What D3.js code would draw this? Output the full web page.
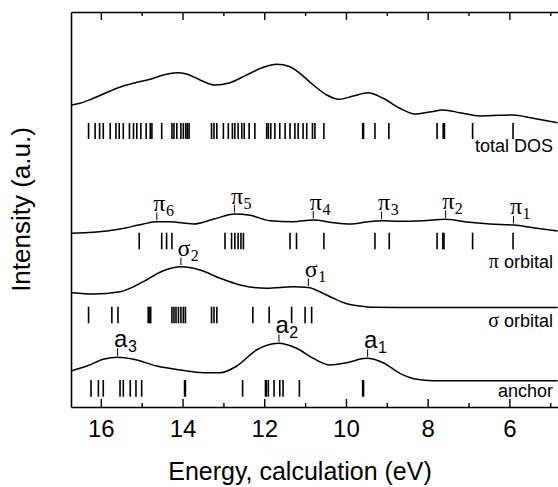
<!DOCTYPE html>
<html>
<head>
<meta charset="utf-8">
<script src="https://cdn.jsdelivr.net/npm/d3@7"></script>
<style>
  body { margin: 0; background: #fff; }
  svg { display: block; }
</style>
</head>
<body>
<svg id="chart" width="558" height="487"></svg>
<script>
// ---- data: energies in eV, intensities in arbitrary units ----
const xMajorTicks = [16, 14, 12, 10, 8, 6];
const xMinorTicks = [15, 13, 11, 9, 7, 5];

// broadened spectra [energy, intensity]
const dosCurve = [
  [16.71, 3.02], [16.51, 3.037], [16.18, 3.087], [15.77, 3.16], [15.45, 3.21],
  [15.12, 3.247], [14.79, 3.277], [14.47, 3.32], [14.14, 3.343], [13.90, 3.33],
  [13.57, 3.27], [13.21, 3.22], [12.84, 3.243], [12.43, 3.32], [12.02, 3.397],
  [11.70, 3.427], [11.37, 3.403], [11.13, 3.337], [10.80, 3.22], [10.47, 3.12],
  [10.17, 3.077], [9.82, 3.11], [9.46, 3.143], [9.09, 3.087], [8.68, 2.987],
  [8.31, 2.93], [7.95, 2.95], [7.62, 2.97], [7.21, 2.943], [6.72, 2.91],
  [6.24, 2.917], [5.91, 2.92], [5.42, 2.887], [4.82, 2.843]
];
const piCurve = [
  [16.71, 1.737], [16.18, 1.747], [15.53, 1.78], [14.96, 1.83], [14.63, 1.853],
  [14.31, 1.853], [13.74, 1.83], [13.25, 1.877], [12.72, 1.93], [12.35, 1.917],
  [11.86, 1.863], [11.29, 1.853], [10.80, 1.87], [10.31, 1.843], [9.90, 1.83],
  [9.50, 1.85], [9.13, 1.863], [8.68, 1.857], [8.11, 1.863], [7.56, 1.877],
  [7.05, 1.85], [6.48, 1.83], [5.89, 1.82], [5.42, 1.793], [4.82, 1.76]
];
const sigmaCurve = [
  [16.71, 1.143], [16.18, 1.13], [15.53, 1.153], [14.96, 1.253], [14.47, 1.363],
  [14.04, 1.403], [13.57, 1.37], [13.08, 1.287], [12.59, 1.22], [11.94, 1.187],
  [11.29, 1.203], [10.92, 1.195], [10.64, 1.153], [10.31, 1.087], [10.00, 1.035],
  [9.66, 1.01], [9.33, 0.997], [8.68, 0.995], [7.46, 0.995], [4.82, 0.995]
];
const anchorCurve = [
  [16.71, 0.363], [16.34, 0.41], [15.94, 0.477], [15.59, 0.497], [15.20, 0.477],
  [14.63, 0.41], [14.06, 0.37], [13.49, 0.343], [13.08, 0.343], [12.67, 0.41],
  [12.19, 0.57], [11.66, 0.637], [11.21, 0.587], [10.80, 0.487], [10.39, 0.42],
  [9.98, 0.443], [9.50, 0.487], [9.09, 0.443], [8.68, 0.337], [8.27, 0.277],
  [7.87, 0.263], [7.21, 0.263], [4.82, 0.263]
];

// individual calculated levels (eV)
const dosSticks = [
  16.30, 16.14, 16.03, 15.94, 15.77, 15.63, 15.55, 15.45, 15.30, 15.20, 15.12,
  15.02, 14.89, 14.79, 14.75, 14.51, 14.26, 14.21, 14.14, 14.04, 13.98, 13.92,
  13.88, 13.84, 13.29, 13.23, 13.16, 13.00, 12.88, 12.78, 12.72, 12.64, 12.55,
  12.49, 12.37, 12.23, 11.94, 11.90, 11.84, 11.74, 11.62, 11.49, 11.37, 11.25,
  11.17, 11.05, 10.96, 10.82, 10.76, 10.54, 9.59, 9.57, 9.29, 8.95, 7.77,
  7.62, 7.59, 6.90, 5.91
];
const piSticks = [
  15.06, 14.51, 14.39, 14.26, 12.96, 12.80, 12.72, 12.64, 12.57, 12.51, 11.37,
  11.21, 10.54, 9.29, 8.94, 7.77, 7.63, 7.60, 6.90, 5.91
];
const sigmaSticks = [
  16.30, 15.73, 15.58, 14.84, 14.80, 14.78, 14.26, 14.21, 14.16, 14.10, 14.04,
  13.98, 13.93, 13.29, 13.23, 13.16, 12.28, 11.88, 11.33, 11.00, 10.84
];
const anchorSticks = [
  16.24, 16.06, 15.94, 15.53, 15.45, 15.28, 15.14, 15.00, 13.95, 13.93, 12.53,
  11.97, 11.95, 11.90, 11.76, 11.62, 11.54, 11.14, 9.59, 9.57
];

// peak assignments
const piPeaks = [
  { sym: "π", sub: "1", e: 5.90 }, { sym: "π", sub: "2", e: 7.56 },
  { sym: "π", sub: "3", e: 9.13 }, { sym: "π", sub: "4", e: 10.80 },
  { sym: "π", sub: "5", e: 12.73 }, { sym: "π", sub: "6", e: 14.63 }
];
const sigmaPeaks = [
  { sym: "σ", sub: "1", e: 10.92 }, { sym: "σ", sub: "2", e: 14.04 }
];
const anchorPeaks = [
  { sym: "a", sub: "1", e: 9.47 }, { sym: "a", sub: "2", e: 11.64 },
  { sym: "a", sub: "3", e: 15.59 }
];

// ---- layout ----
const W = 558, H = 487;
const margin = { left: 71, right: 0, top: 12, bottom: 80 };
const SANS = "Arimo, 'Liberation Sans', Arial, Helvetica, sans-serif";
const SERIF = "Tinos, 'Liberation Serif', 'Times New Roman', Times, serif";

const svg = d3.select("#chart");
const x = d3.scaleLinear().domain([16.73, 4.81]).range([margin.left, W]);
const y = d3.scaleLinear().domain([0, 3.95]).range([H - margin.bottom, margin.top]);

const rows = [
  { curve: dosCurve, sticks: dosSticks, peaks: [], stickLo: 2.68, stickHi: 2.84,
    labelY: 2.55, greek: "", text: "total DOS", peakFont: SERIF },
  { curve: piCurve, sticks: piSticks, peaks: piPeaks, stickLo: 1.577, stickHi: 1.743,
    labelY: 1.387, greek: "π", text: " orbital", peakFont: SERIF },
  { curve: sigmaCurve, sticks: sigmaSticks, peaks: sigmaPeaks, stickLo: 0.837, stickHi: 1.003,
    labelY: 0.803, greek: "σ", text: " orbital", peakFont: SERIF },
  { curve: anchorCurve, sticks: anchorSticks, peaks: anchorPeaks, stickLo: 0.103, stickHi: 0.27,
    labelY: 0.097, greek: "", text: "anchor", peakFont: SANS }
];

const line = d3.line()
  .x(d => x(d[0]))
  .y(d => y(d[1]))
  .curve(d3.curveMonotoneX);

const plot = svg.append("g");

// y position of a drawn path at a given pixel x (path runs left to right)
function pathYAt(node, px) {
  let lo = 0, hi = node.getTotalLength();
  for (let i = 0; i < 40; i++) {
    const mid = (lo + hi) / 2;
    if (node.getPointAtLength(mid).x < px) lo = mid; else hi = mid;
  }
  return node.getPointAtLength((lo + hi) / 2).y;
}

rows.forEach(r => {
  const path = plot.append("path")
    .datum(r.curve)
    .attr("d", line)
    .attr("fill", "none")
    .attr("stroke", "#000")
    .attr("stroke-width", 1.5);

  plot.append("g").selectAll("line")
    .data(r.sticks)
    .join("line")
    .attr("x1", d => x(d)).attr("x2", d => x(d))
    .attr("y1", y(r.stickLo)).attr("y2", y(r.stickHi))
    .attr("stroke", "#000")
    .attr("stroke-width", 1.6);

  // row caption at the right edge
  const cap = plot.append("text")
    .attr("x", 553).attr("y", y(r.labelY))
    .attr("text-anchor", "end")
    .attr("font-family", SANS)
    .attr("font-size", 18)
    .attr("fill", "#000");
  if (r.greek) cap.append("tspan").attr("font-family", SERIF).attr("font-size", 20).text(r.greek);
  cap.append("tspan").text(r.text);

  // peak markers: short tick above the curve plus symbol with subscript
  const node = path.node();
  r.peaks.forEach(p => {
    const px = x(p.e);
    const cy = pathYAt(node, px);
    const tickBottom = cy - 1.5, tickTop = tickBottom - 7.5;
    plot.append("line")
      .attr("x1", px).attr("x2", px)
      .attr("y1", tickBottom).attr("y2", tickTop)
      .attr("stroke", "#000").attr("stroke-width", 1);
    const t = plot.append("text")
      .attr("x", px - 3.5).attr("y", tickTop - 1.5)
      .attr("font-family", r.peakFont)
      .attr("fill", "#000");
    t.append("tspan").attr("font-size", 24).text(p.sym);
    t.append("tspan").attr("font-size", 16).attr("dy", 5).attr("dx", 0.5).text(p.sub);
  });
});

// ---- axes ----
const axisStyle = g => {
  g.select(".domain").attr("stroke", "#000").attr("stroke-width", 1.6);
  g.selectAll(".tick line").attr("stroke", "#000").attr("stroke-width", 1.4);
};

const yBottom = H - margin.bottom;

svg.append("g")
  .attr("transform", `translate(0,${yBottom})`)
  .call(d3.axisBottom(x).tickValues(xMajorTicks).tickSizeInner(-8).tickSizeOuter(0)
    .tickPadding(13).tickFormat(d3.format("d")))
  .call(axisStyle)
  .call(g => g.selectAll(".tick text")
    .attr("font-family", SANS).attr("font-size", 24).attr("fill", "#000"));

svg.append("g")
  .attr("transform", `translate(0,${yBottom})`)
  .call(d3.axisBottom(x).tickValues(xMinorTicks).tickSizeInner(-4).tickSizeOuter(0).tickFormat(""))
  .call(axisStyle)
  .call(g => g.select(".domain").remove());

svg.append("g")
  .attr("transform", `translate(0,${margin.top})`)
  .call(d3.axisTop(x).tickValues(xMajorTicks).tickSizeInner(-8).tickSizeOuter(0).tickFormat(""))
  .call(axisStyle);

svg.append("g")
  .attr("transform", `translate(0,${margin.top})`)
  .call(d3.axisTop(x).tickValues(xMinorTicks).tickSizeInner(-4).tickSizeOuter(0).tickFormat(""))
  .call(axisStyle)
  .call(g => g.select(".domain").remove());

svg.append("g")
  .attr("transform", `translate(${margin.left},0)`)
  .call(d3.axisLeft(y).tickValues([]).tickSizeOuter(0))
  .call(axisStyle);

// ---- axis titles ----
svg.append("text")
  .attr("x", 300).attr("y", 480)
  .attr("text-anchor", "middle")
  .attr("font-family", SANS).attr("font-size", 25).attr("fill", "#000")
  .text("Energy, calculation (eV)");

svg.append("text")
  .attr("transform", `translate(30,${(margin.top + yBottom) / 2}) rotate(-90)`)
  .attr("text-anchor", "middle")
  .attr("font-family", SANS).attr("font-size", 26).attr("fill", "#000")
  .text("Intensity (a.u.)");
</script>
</body>
</html>
